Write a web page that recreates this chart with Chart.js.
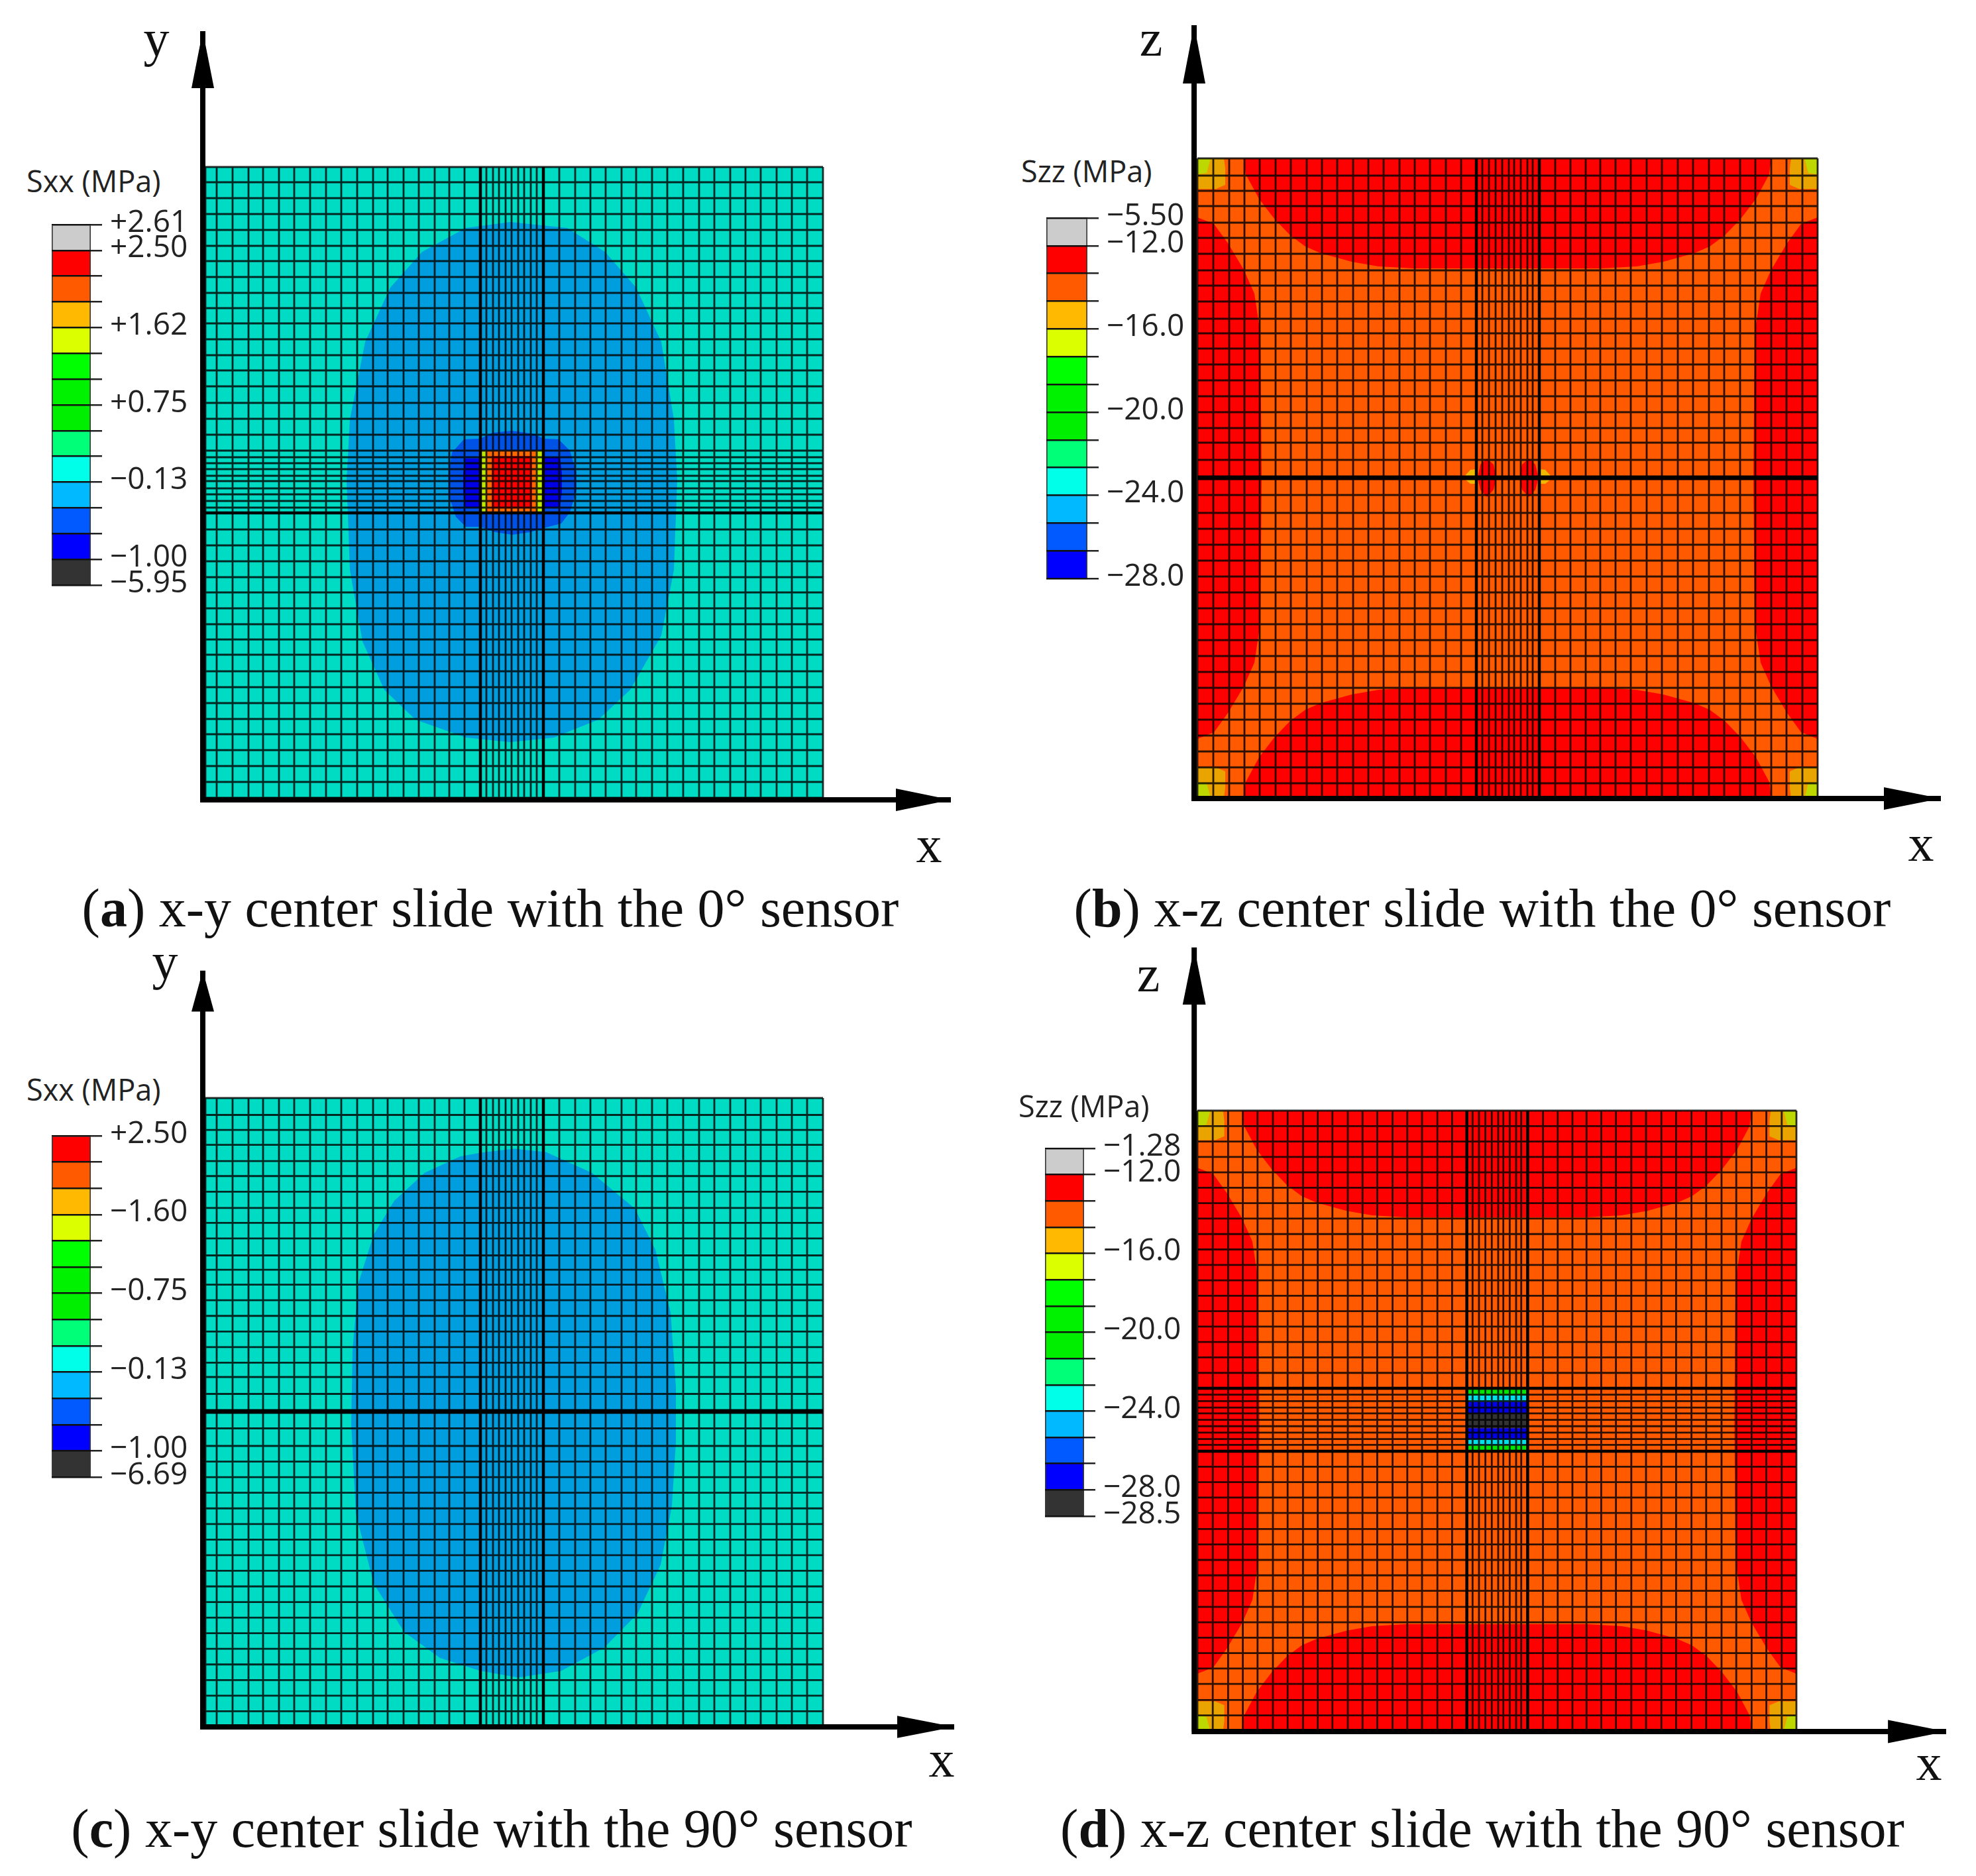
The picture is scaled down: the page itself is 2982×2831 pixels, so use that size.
<!DOCTYPE html>
<html>
<head>
<meta charset="utf-8">
<script src="https://cdn.jsdelivr.net/npm/chart.js@4"></script>
<style>
html,body{margin:0;padding:0;background:#fff}
#page{position:relative;width:2982px;height:2831px;overflow:hidden;background:#fff}
canvas{position:absolute;display:block}
canvas.field{filter:blur(0.7px)}
canvas.scale{filter:blur(0.4px)}
.cap,.ax{position:absolute;font-family:"Liberation Serif",serif;color:#111;white-space:nowrap;transform:translate(-50%,-50%)}
.cap{font-size:82px}
.ax{font-size:78px}
.lt{position:absolute;font-family:"Open Sans",sans-serif;font-size:45px;color:#222;white-space:nowrap;transform:translateY(-50%)}
</style>
</head>
<body>
<div id="page"></div>
<script>
/* ---------- mesh lines (model units) ---------- */
const columnsAC = [0,17,41,65,87,111,134,158,182,205,229,253,275,299,322,346,368,391,415,424,434,443,453,462,472,481,491,500,510,534,558,581,604,628,650,674,697,721,745,768,792,815,838,862,885,908,932];
const columnsBD = [0,24,48,71,94,118,141,165,188,211,235,258,281,305,328,351,375,398,421,430,440,450,460,470,478,488,498,506,516,540,563,586,608,631,654,678,701,725,748,772,795,819,842,866,889,913,936];
const rowsA = [0,23,47,71,95,119,142,166,190,213,236,260,284,307,331,356,380,404,428,438,447,456,466,474,485,494,504,514,522,547,571,595,619,642,666,690,713,736,761,785,809,833,856,880,904,928,952];
const rowsBC = [0,26,49,72,97,120,144,169,192,216,242,264,287,311,335,359,383,407,429,455,482,508,535,559,583,607,631,655,679,703,727,751,775,799,823,847,871,895,919,943,965];
const rowsD = [0,24,48,72,96,120,144,168,192,216,240,264,288,312,336,360,384,408,432,442,452,462,471,481,491,501,511,520,530,554,578,602,626,651,675,699,723,747,772,796,820,844,868,892,917,941,965];
const heavyColumnsAC = [415,510];
const heavyColumnsBD = [421,516];
const heavyRowsA = [522];
const bandRowsBC = [482];
const heavyRowsD = [432,530];

/* ---------- contour regions, x-y slices ---------- */
const plateA = [[0,0],[932,0],[932,952],[0,952]];
const plateC = [[0,0],[932,0],[932,965],[0,965]];
const lobeA = [[460,83],[546,92],[603,128],[650,182],[688,264],[707,381],[712,472],[707,608],[688,707],[641,789],[593,834],[526,861],[460,868],[393,861],[317,834],[270,789],[237,716],[218,608],[213,472],[218,381],[241,264],[279,182],[327,128],[393,92]];
const haloA = [[463,398],[497,403],[510,410],[533,411],[550,428],[560,461],[560,488],[550,521],[537,538],[510,545],[490,551],[463,555],[437,551],[415,543],[393,543],[378,528],[367,495],[367,461],[372,431],[390,411],[415,410],[433,401]];
const coreLeftA = [[392,440],[413,440],[413,513],[392,513],[389,490],[389,462]];
const coreRightA = [[512,438],[535,438],[538,462],[538,490],[535,513],[512,513]];
const sensorEdgeA = [[415,428],[508,428],[508,521],[415,521]];
const sensorRingA = [[424,428],[499,428],[499,521],[424,521]];
const sensorCoreA = [[432,436],[493,436],[493,515],[432,515]];
const lobeC = [[465,78],[514,83],[583,115],[648,170],[679,233],[702,330],[710,444],[710,530],[704,627],[687,718],[652,793],[602,845],[537,881],[472,891],[415,881],[354,861],[300,821],[254,747],[227,639],[220,501],[222,387],[231,284],[254,210],[285,158],[331,115],[384,90],[415,84]];

/* ---------- contour regions, x-z slices ---------- */
const plateBD = [[0,0],[936,0],[936,965],[0,965]];
const redTop = [[70,0],[73,24],[93,61],[116,91],[140,116],[163,133],[186,143],[233,156],[273,163],[326,166],[610,166],[663,163],[703,156],[750,143],[773,133],[796,116],[820,91],[843,61],[863,24],[866,0]];
const redBottom = [[70,965],[73,941],[93,904],[116,874],[140,849],[163,832],[186,822],[233,809],[273,802],[326,799],[610,799],[663,802],[703,809],[750,822],[773,832],[796,849],[820,874],[843,904],[863,941],[866,965]];
const redLeft = [[0,89],[25,99],[46,128],[70,168],[86,204],[95,264],[97,482],[95,701],[86,761],[70,797],[46,837],[25,866],[0,876]];
const redRight = [[936,89],[911,99],[890,128],[866,168],[850,204],[841,264],[839,482],[841,701],[850,761],[866,797],[890,837],[911,866],[936,876]];
const amberTL = [[0,0],[40,0],[42,15],[42,40],[28,46],[0,46]];
const limeTL = [[0,0],[20,0],[14,22],[0,24]];
const amberTR = [[936,0],[896,0],[894,15],[894,40],[908,46],[936,46]];
const limeTR = [[936,0],[916,0],[922,22],[936,24]];
const amberBL = [[0,965],[40,965],[42,950],[42,925],[28,919],[0,919]];
const limeBL = [[0,965],[20,965],[14,943],[0,941]];
const amberBR = [[936,965],[896,965],[894,950],[894,925],[908,919],[936,919]];
const limeBR = [[936,965],[916,965],[922,943],[936,941]];
const blobLeftB = [[437,453],[447,462],[451,482],[447,500],[437,511],[427,500],[423,482],[427,462]];
const blobRightB = [[500,453],[510,462],[515,482],[510,500],[500,511],[490,500],[486,482],[490,462]];
const wedgeLeftB = [[401,482],[412,470],[421,469],[421,491],[412,491]];
const wedgeRightB = [[536,482],[525,470],[516,469],[516,491],[525,491]];
const sensorGreenTopD = [[421,434],[516,434],[516,443],[421,443]];
const sensorCyanTopD = [[421,443],[516,443],[516,453],[421,453]];
const sensorBlueTopD = [[421,453],[516,453],[516,471],[421,471]];
const sensorDarkD = [[421,471],[516,471],[516,494],[421,494]];
const sensorBlueBotD = [[421,494],[516,494],[516,511],[421,511]];
const sensorCyanBotD = [[421,511],[516,511],[516,521],[421,521]];
const sensorGreenBotD = [[421,521],[516,521],[516,530],[421,530]];

/* ---------- axes ---------- */
const axisA = {origin:[-4,955], up:[-4,-205], right:[1125,955]};
const headsA = [[[-4,-205],[13,-119],[-21,-119]],[[1125,955],[1042,938],[1042,972]]];
const axisB = {origin:[-5,966], up:[-5,-201], right:[1122,966]};
const headsB = [[[-5,-201],[12,-113],[-22,-113]],[[1122,966],[1036,949],[1036,983]]];
const axisC = {origin:[-4,967], up:[-4,-196], right:[1130,967]};
const headsC = [[[-4,-196],[13,-133],[-21,-133]],[[1130,967],[1044,950],[1044,984]]];
const axisD = {origin:[-5,966], up:[-5,-254], right:[1170,966]};
const headsD = [[[-5,-254],[13,-165],[-23,-165]],[[1170,966],[1079,948],[1079,984]]];

/* ---------- colour scales ---------- */
const bandsAll = ['#CCCCCC','#FF0000','#FF5A00','#FFB900','#DCFF00','#00FF00','#00F200','#00EE00','#00FF78','#00FFE8','#00B9FF','#005AFF','#0000FF','#333333'];
const scaleLabelsA = ['+2.61','+2.50','+1.62','+0.75','\u22120.13','\u22121.00','\u22125.95'];
const scaleRowsA = [0,1,4,7,10,13,14];
const scaleLabelsB = ['\u22125.50','\u221212.0','\u221216.0','\u221220.0','\u221224.0','\u221228.0'];
const scaleRowsB = [0,1,4,7,10,13];
const scaleLabelsC = ['+2.50','\u22121.60','\u22120.75','\u22120.13','\u22121.00','\u22126.69'];
const scaleRowsC = [0,3,6,9,12,13];
const scaleLabelsD = ['\u22121.28','\u221212.0','\u221216.0','\u221220.0','\u221224.0','\u221228.0','\u221228.5'];
const scaleRowsD = [0,1,4,7,10,13,14];

const TEAL='#00DCC4', LOBE='#009EDF', ORANGE='#FF5A00', RED='#FF0000', AMBER='#E9A400', LIME='#BCD800';
const pts = p => p.map(([x,y]) => ({x,y}));
const region = (poly,color) => ({data:pts(poly), polygonFill:color, showLine:false, pointRadius:0});
function meshData(xs,ys,vertical){
  const out=[]; const Y0=ys[0], Y1=ys[ys.length-1], X0=xs[0], X1=xs[xs.length-1];
  (vertical?xs:ys).forEach(v=>{
    if(vertical) out.push({x:v,y:Y0},{x:v,y:Y1},{x:NaN,y:NaN});
    else out.push({x:X0,y:v},{x:X1,y:v},{x:NaN,y:NaN});
  });
  return out;
}
const stroke=(data,color,width)=>({data,showLine:true,borderColor:color,borderWidth:width,pointRadius:0,fill:false,tension:0,spanGaps:false});

const polygonPlugin={id:'polygonFill',beforeDatasetsDraw(chart){
  const c=chart.ctx;c.save();
  chart.data.datasets.forEach((d,i)=>{
    if(!d.polygonFill)return;
    const m=chart.getDatasetMeta(i).data;
    c.beginPath();m.forEach((e,j)=>j?c.lineTo(e.x,e.y):c.moveTo(e.x,e.y));c.closePath();
    c.fillStyle=d.polygonFill;c.fill();
  });
  c.restore();
}};
const page=document.getElementById('page');
function addCanvas(x0,y0,x1,y1,cls){
  const cv=document.createElement('canvas');
  cv.width=x1-x0;cv.height=y1-y0;cv.className=cls;
  cv.style.left=x0+'px';cv.style.top=y0+'px';cv.style.width=(x1-x0)+'px';cv.style.height=(y1-y0)+'px';
  page.appendChild(cv);return cv;
}
function field(box,plate,xs,ys,heavyX,heavyY,bandY,regions,axis,heads){
  const [cx0,cy0,cx1,cy1]=box,[L,T,R,B]=plate;
  const W=xs[xs.length-1],H=ys[ys.length-1],sx=(R-L)/W,sy=(B-T)/H;
  const lightX=xs.filter(v=>!heavyX.includes(v)),lightY=ys.filter(v=>!heavyY.includes(v)&&!bandY.includes(v));
  const datasets=[
    ...regions.map(r=>region(r[0],r[1])),
    ...heads.map(h=>region(h,'#000')),
    stroke([{x:axis.origin[0],y:axis.origin[1]},{x:axis.up[0],y:axis.up[1]},{x:NaN,y:NaN},{x:axis.origin[0]-4,y:axis.origin[1]},{x:axis.right[0],y:axis.right[1]}],'#000',8),
    stroke(meshData(xs,bandY,false),'#000',7),
    stroke([...meshData(heavyX,ys,true),...meshData(xs,heavyY,false)],'#000',4.5),
    stroke([...meshData(lightX,ys,true),...meshData(xs,lightY,false)],'rgba(0,0,0,0.82)',2.8),
  ];
  new Chart(addCanvas(cx0,cy0,cx1,cy1,'field'),{type:'scatter',data:{datasets},plugins:[polygonPlugin],options:{
    responsive:false,animation:false,events:[],clip:false,layout:{padding:0},
    plugins:{legend:{display:false},tooltip:{enabled:false},title:{display:false}},
    scales:{
      x:{type:'linear',display:false,min:(cx0-L)/sx,max:(cx1-L)/sx},
      y:{type:'linear',display:false,reverse:true,min:(cy0-T)/sy,max:(cy1-T)/sy}
    }
  }});
}
function colourScale(x0,x1,y0,y1,bands,rows,labels){
  const n=bands.length,pad=34,tick=17,lab=170;
  const bandH=(y1-y0)/n,shift=2.5/bandH;
  const datasets=bands.map(c=>({data:[1],backgroundColor:c,borderColor:'#3a3a3a',borderWidth:{left:2,right:2,top:0,bottom:0},borderSkipped:false,stack:'s',barPercentage:1,categoryPercentage:1}));
  new Chart(addCanvas(x0-2,y0-pad,x1+tick+lab,y1+pad,'scale'),{type:'bar',data:{labels:['s'],datasets},options:{
    responsive:false,animation:false,events:[],layout:{padding:{top:pad,bottom:pad,left:2,right:0}},
    plugins:{legend:{display:false},tooltip:{enabled:false},title:{display:false}},
    scales:{
      x:{display:false,stacked:true},
      y:{stacked:true,reverse:true,min:0,max:n,position:'right',weight:0,
         border:{display:false},
         grid:{color:'#111',lineWidth:2.5,z:1,drawTicks:true,tickLength:tick,tickColor:'#222',tickWidth:2.5},
         ticks:{display:false,stepSize:1},
         afterFit(s){s.width=tick;s.paddingTop=0;s.paddingBottom=0;}},
      y1:{type:'linear',reverse:true,min:shift,max:n+shift,position:'right',weight:1,
         border:{display:false},grid:{display:false,drawTicks:false},
         afterBuildTicks(s){s.ticks=rows.map(v=>({value:v}));},
         afterFit(s){s.width=lab;s.paddingTop=0;s.paddingBottom=0;},
         ticks:{autoSkip:false,padding:12,crossAlign:'near',color:'#222',
           font:{family:'"Open Sans",sans-serif',size:46},
           callback(v){return labels[rows.indexOf(v)];}}}
    }
  }});
}
function text(cls,html,x,y){const d=document.createElement('div');d.className=cls;d.innerHTML=html;d.style.left=x+'px';d.style.top=y+'px';page.appendChild(d);}

function draw(){
  field([280,20,1460,1240],[310,252,1242,1204],columnsAC,rowsA,heavyColumnsAC,heavyRowsA,[],
    [[plateA,TEAL],[lobeA,LOBE],[haloA,'#0052E6'],[coreLeftA,'#0000E6'],[coreRightA,'#0000E6'],[sensorEdgeA,'#BDE800'],[sensorRingA,'#FF6A00'],[sensorCoreA,RED]],axisA,headsA);
  const xz=[[plateBD,ORANGE],[redTop,RED],[redBottom,RED],[redLeft,RED],[redRight,RED],[amberTL,AMBER],[limeTL,LIME],[amberTR,AMBER],[limeTR,LIME],[amberBL,AMBER],[limeBL,LIME],[amberBR,AMBER],[limeBR,LIME]];
  field([1780,20,2960,1240],[1807,239,2743,1204],columnsBD,rowsBC,heavyColumnsBD,[],bandRowsBC,
    [...xz,[wedgeLeftB,'#F0B800'],[wedgeRightB,'#F0B800'],[blobLeftB,RED],[blobRightB,RED]],axisB,headsB);
  field([280,1440,1460,2640],[310,1657,1242,2604],columnsAC,rowsBC,heavyColumnsAC,[],bandRowsBC,
    [[plateC,TEAL],[lobeC,LOBE]],axisC,headsC);
  field([1780,1410,2960,2640],[1807,1676,2711,2612],columnsBD,rowsD,heavyColumnsBD,heavyRowsD,[],
    [...xz,[sensorGreenTopD,'#00E600'],[sensorCyanTopD,'#00E0E8'],[sensorBlueTopD,'#0000E6'],[sensorDarkD,'#333333'],[sensorBlueBotD,'#0000E6'],[sensorCyanBotD,'#00E0E8'],[sensorGreenBotD,'#00E600']],axisD,headsD);

  colourScale(78,137,339,883,bandsAll,scaleRowsA,scaleLabelsA);
  colourScale(1579,1641,329,873,bandsAll.slice(0,13),scaleRowsB,scaleLabelsB);
  colourScale(78,137,1714,2229,bandsAll.slice(1),scaleRowsC,scaleLabelsC);
  colourScale(1577,1636,1733,2288,bandsAll,scaleRowsD,scaleLabelsD);

  text('lt','Sxx (MPa)',40,272);
  text('lt','Szz (MPa)',1541,257);
  text('lt','Sxx (MPa)',40,1643);
  text('lt','Szz (MPa)',1537,1668);

  text('ax','y',236,58);text('ax','x',1402,1275);
  text('ax','z',1737,58);text('ax','x',2899,1273);
  text('ax','y',249,1451);text('ax','x',1421,2655);
  text('ax','z',1733,1470);text('ax','x',2911,2660);

  text('cap','(<b>a</b>) x-y center slide with the 0° sensor',740,1371);
  text('cap','(<b>b</b>) x-z center slide with the 0° sensor',2237,1371);
  text('cap','(<b>c</b>) x-y center slide with the 90° sensor',742,2760);
  text('cap','(<b>d</b>) x-z center slide with the 90° sensor',2237,2760);
}
draw();
</script>
</body>
</html>
